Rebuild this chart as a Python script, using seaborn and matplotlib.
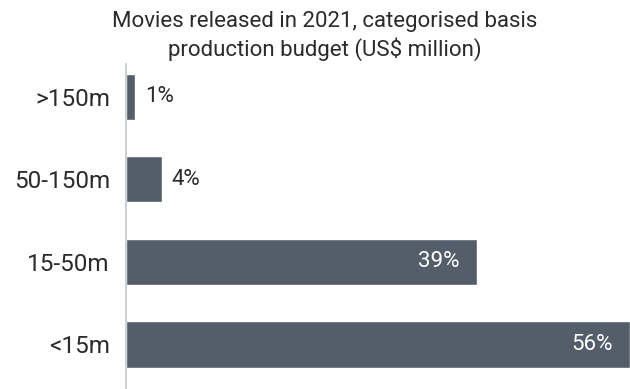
import numpy as np
import pandas as pd
import matplotlib
matplotlib.use("Agg")
import matplotlib.pyplot as plt
import seaborn as sns

# data
categories = [">150m", "50-150m", "15-50m", "<15m"]
shares = [1, 4, 39, 56]
title = "Movies released in 2021, categorised basis\nproduction budget (US$ million)"

bar_color = "#545e6b"
text_color = "#2b2b2b"

sns.set_theme(style="white")
plt.rcParams["font.family"] = ["Roboto", "DejaVu Sans"]

df = pd.DataFrame({"budget": categories, "share": shares})

fig = plt.figure(figsize=(6.3, 3.89), dpi=100)
ax = fig.add_axes([0.2, 0.0, 0.8, 0.836])

sns.barplot(data=df, x="share", y="budget", color=bar_color, saturation=1,
            width=0.56, ax=ax)

ax.set_xlim(0, 56)
ax.set_ylim(3.54, -0.4)
ax.set_xlabel("")
ax.set_ylabel("")
ax.set_xticks([])
ax.tick_params(axis="y", length=0, pad=11.5, labelsize=17.5, labelcolor=text_color)

for s in ["top", "right", "bottom"]:
    ax.spines[s].set_visible(False)
ax.spines["left"].set_color("#c4c7cc")
ax.spines["left"].set_linewidth(1.2)

# value labels: inside for long bars, outside for short ones
for i, v in enumerate(shares):
    if v > 20:
        ax.text(v - 1.9, i, f"{v}%", ha="right", va="center",
                color="white", fontsize=16)
    else:
        ax.text(v + 1.1, i, f"{v}%", ha="left", va="center",
                color=text_color, fontsize=16)

fig.text(0.516, 0.972, title, ha="center", va="top", fontsize=16,
         color=text_color, linespacing=1.3)

fig.savefig("out.png", dpi=100)
